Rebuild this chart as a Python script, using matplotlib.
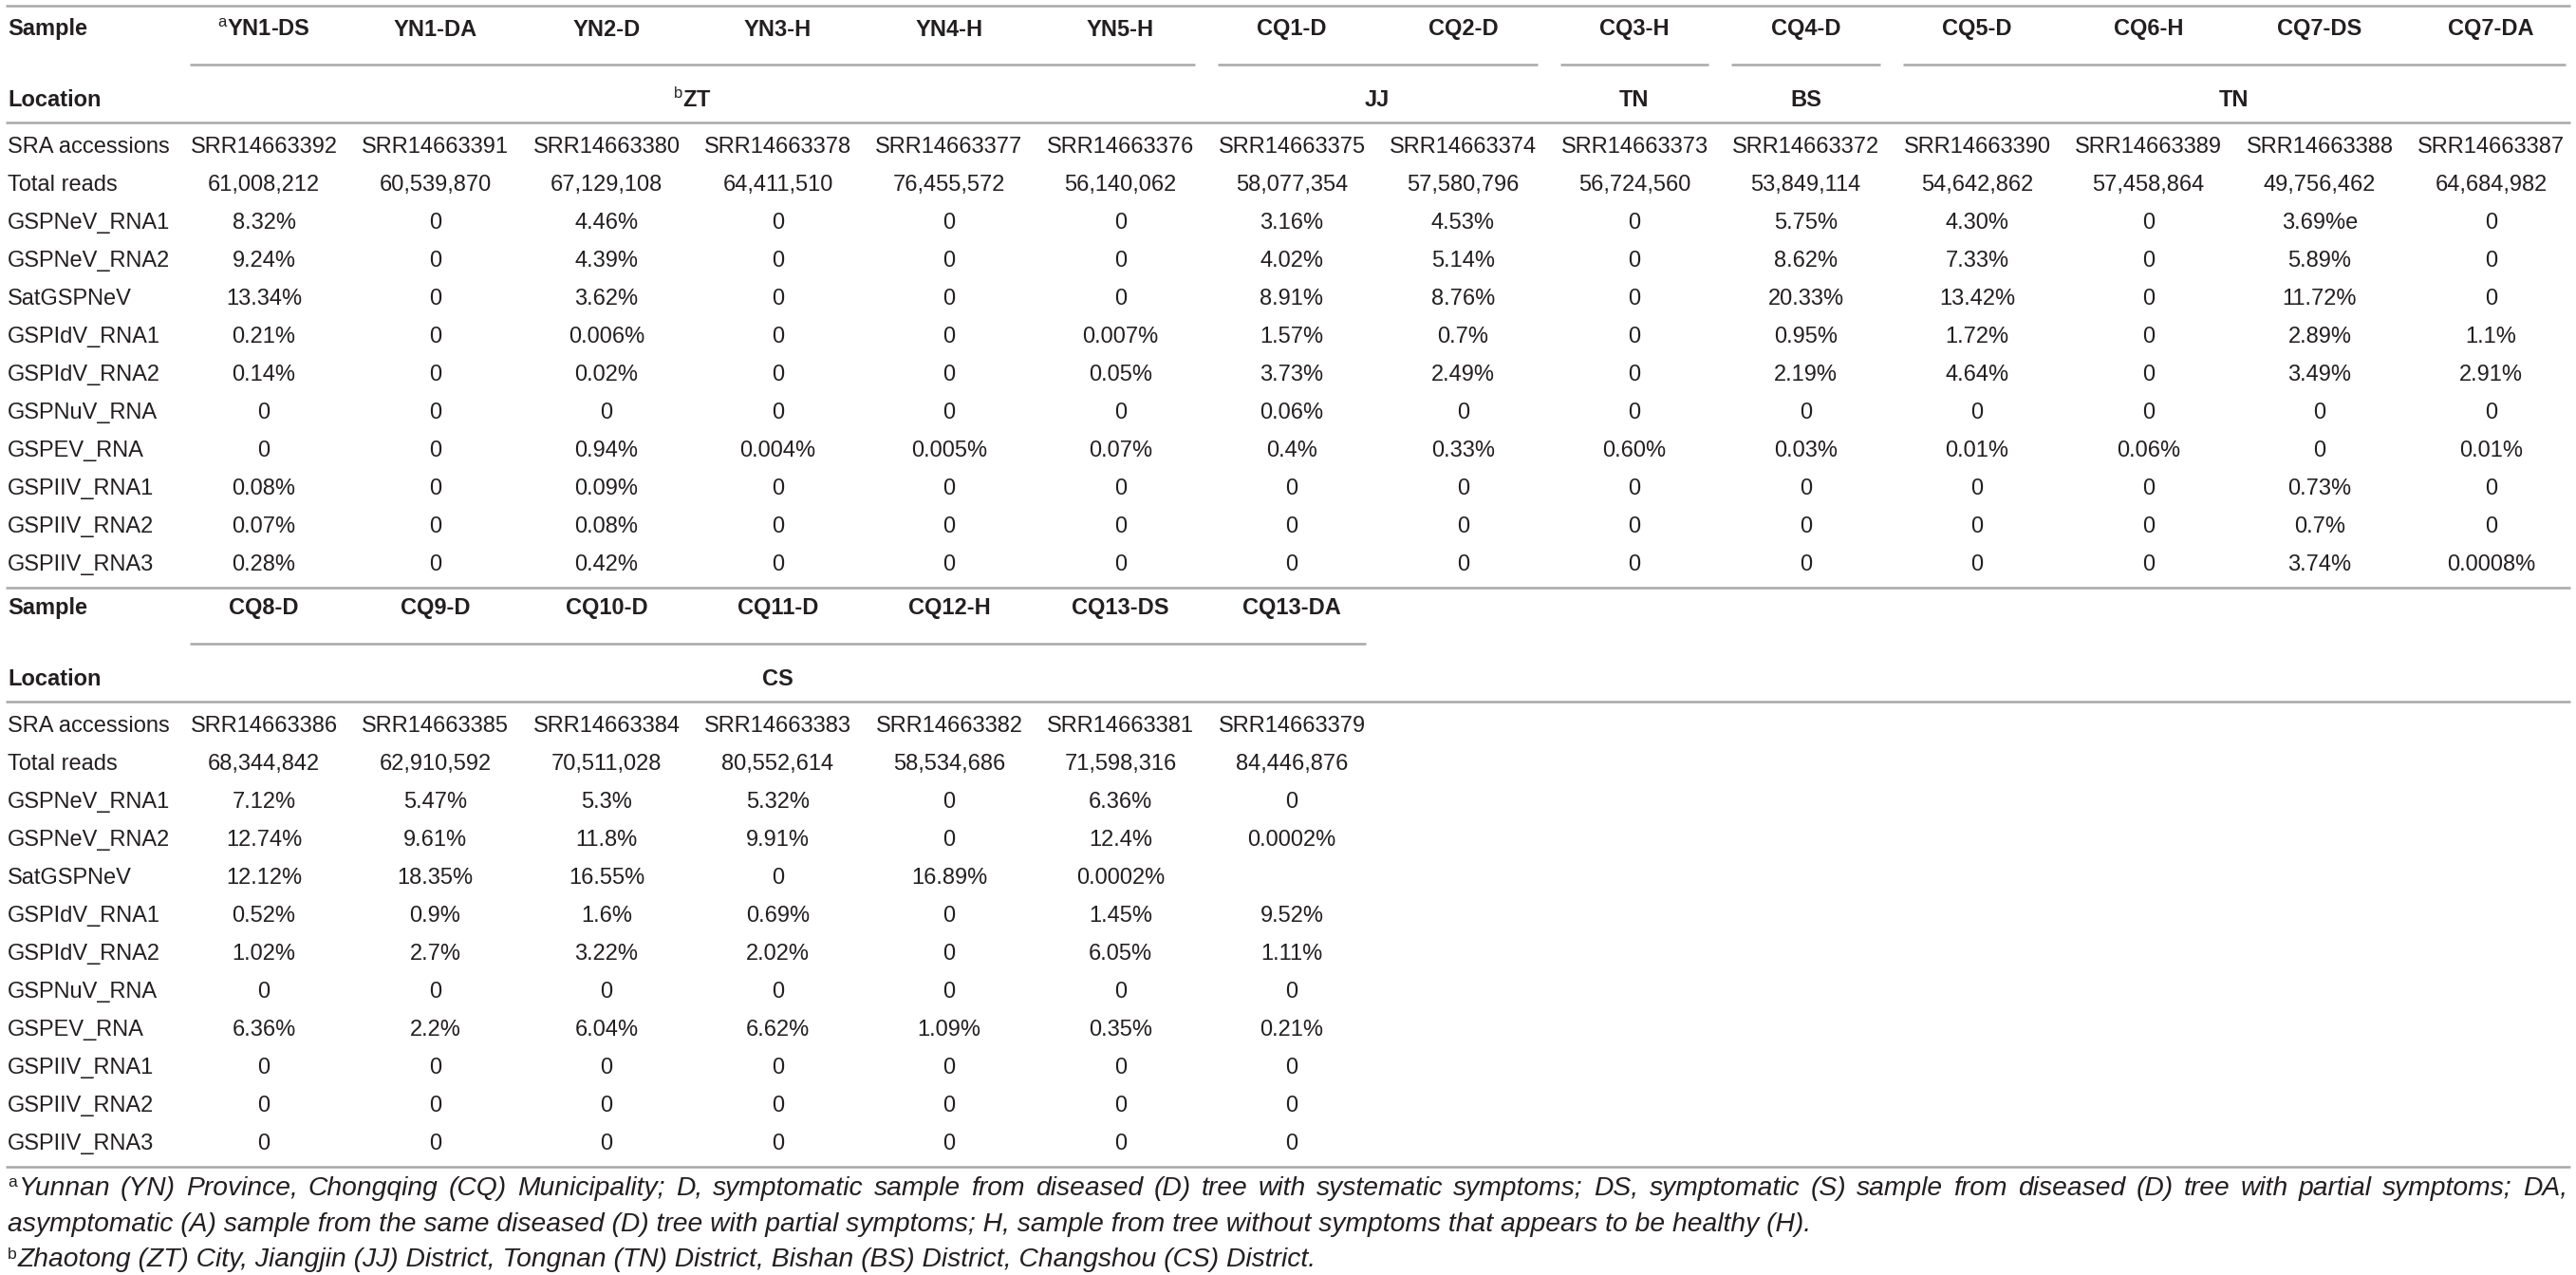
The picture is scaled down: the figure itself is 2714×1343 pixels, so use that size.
import matplotlib.pyplot as plt
import numpy as np

plt.rcParams['font.family'] = ['Liberation Sans', 'DejaVu Sans']
plt.rcParams['mathtext.fontset'] = 'custom'
plt.rcParams['mathtext.rm'] = 'Liberation Sans'
plt.rcParams['mathtext.it'] = 'Liberation Sans:italic'
plt.rcParams['mathtext.bf'] = 'Liberation Sans:bold'

# ---------------- data ----------------
row_names = ["GSPNeV_RNA1", "GSPNeV_RNA2", "SatGSPNeV", "GSPIdV_RNA1", "GSPIdV_RNA2",
             "GSPNuV_RNA", "GSPEV_RNA", "GSPIIV_RNA1", "GSPIIV_RNA2", "GSPIIV_RNA3"]

samples1 = ["$^{\\mathrm{a}}$YN1-DS", "YN1-DA", "YN2-D", "YN3-H", "YN4-H", "YN5-H", "CQ1-D",
            "CQ2-D", "CQ3-H", "CQ4-D", "CQ5-D", "CQ6-H", "CQ7-DS", "CQ7-DA"]
locations1 = [("$^{\\mathrm{b}}$ZT", 0, 5), ("JJ", 6, 7), ("TN", 8, 8), ("BS", 9, 9), ("TN", 10, 13)]
sra1 = ["SRR14663392", "SRR14663391", "SRR14663380", "SRR14663378", "SRR14663377",
        "SRR14663376", "SRR14663375", "SRR14663374", "SRR14663373", "SRR14663372",
        "SRR14663390", "SRR14663389", "SRR14663388", "SRR14663387"]
reads1 = ["61,008,212", "60,539,870", "67,129,108", "64,411,510", "76,455,572", "56,140,062",
          "58,077,354", "57,580,796", "56,724,560", "53,849,114", "54,642,862", "57,458,864",
          "49,756,462", "64,684,982"]
vals1 = [
    ["8.32%", "0", "4.46%", "0", "0", "0", "3.16%", "4.53%", "0", "5.75%", "4.30%", "0", "3.69%e", "0"],
    ["9.24%", "0", "4.39%", "0", "0", "0", "4.02%", "5.14%", "0", "8.62%", "7.33%", "0", "5.89%", "0"],
    ["13.34%", "0", "3.62%", "0", "0", "0", "8.91%", "8.76%", "0", "20.33%", "13.42%", "0", "11.72%", "0"],
    ["0.21%", "0", "0.006%", "0", "0", "0.007%", "1.57%", "0.7%", "0", "0.95%", "1.72%", "0", "2.89%", "1.1%"],
    ["0.14%", "0", "0.02%", "0", "0", "0.05%", "3.73%", "2.49%", "0", "2.19%", "4.64%", "0", "3.49%", "2.91%"],
    ["0", "0", "0", "0", "0", "0", "0.06%", "0", "0", "0", "0", "0", "0", "0"],
    ["0", "0", "0.94%", "0.004%", "0.005%", "0.07%", "0.4%", "0.33%", "0.60%", "0.03%", "0.01%", "0.06%", "0", "0.01%"],
    ["0.08%", "0", "0.09%", "0", "0", "0", "0", "0", "0", "0", "0", "0", "0.73%", "0"],
    ["0.07%", "0", "0.08%", "0", "0", "0", "0", "0", "0", "0", "0", "0", "0.7%", "0"],
    ["0.28%", "0", "0.42%", "0", "0", "0", "0", "0", "0", "0", "0", "0", "3.74%", "0.0008%"],
]

samples2 = ["CQ8-D", "CQ9-D", "CQ10-D", "CQ11-D", "CQ12-H", "CQ13-DS", "CQ13-DA"]
locations2 = [("CS", 0, 6)]
sra2 = ["SRR14663386", "SRR14663385", "SRR14663384", "SRR14663383", "SRR14663382",
        "SRR14663381", "SRR14663379"]
reads2 = ["68,344,842", "62,910,592", "70,511,028", "80,552,614", "58,534,686", "71,598,316", "84,446,876"]
vals2 = [
    ["7.12%", "5.47%", "5.3%", "5.32%", "0", "6.36%", "0"],
    ["12.74%", "9.61%", "11.8%", "9.91%", "0", "12.4%", "0.0002%"],
    ["12.12%", "18.35%", "16.55%", "0", "16.89%", "0.0002%", ""],
    ["0.52%", "0.9%", "1.6%", "0.69%", "0", "1.45%", "9.52%"],
    ["1.02%", "2.7%", "3.22%", "2.02%", "0", "6.05%", "1.11%"],
    ["0", "0", "0", "0", "0", "0", "0"],
    ["6.36%", "2.2%", "6.04%", "6.62%", "1.09%", "0.35%", "0.21%"],
    ["0", "0", "0", "0", "0", "0", "0"],
    ["0", "0", "0", "0", "0", "0", "0"],
    ["0", "0", "0", "0", "0", "0", "0"],
]

foot_a1 = ("Yunnan (YN) Province, Chongqing (CQ) Municipality; D, symptomatic sample from diseased (D) "
           "tree with systematic symptoms; DS, symptomatic (S) sample from diseased (D) tree with partial symptoms; DA,")
foot_a2 = ("asymptomatic (A) sample from the same diseased (D) tree with partial symptoms; H, sample from "
           "tree without symptoms that appears to be healthy (H).")
foot_b = ("Zhaotong (ZT) City, Jiangjin (JJ) District, Tongnan (TN) District, Bishan (BS) District, "
          "Changshou (CS) District.")

# ---------------- layout ----------------
W, H = 2714, 1343
TXT = '#231f20'
LINE = '#a8a8a8'
FS = 17
X0, STEP = 278, 180.5
LEFT, RIGHT = 6, 2708

fig = plt.figure(figsize=(W / 100, H / 100), dpi=100)
ax = fig.add_axes([0, 0, 1, 1])
ax.set_xlim(0, W)
ax.set_ylim(H, 0)
ax.axis('off')
renderer = fig.canvas.get_renderer()


def text_w(s, **kw):
    t = ax.text(0, 0, s, **kw)
    w = t.get_window_extent(renderer).width
    t.remove()
    return w


def draw_table(top, samples, locations, sra, reads, vals):
    cx = X0 + STEP * np.arange(len(samples))
    ax.text(8, top, "Sample", fontsize=FS, fontweight='bold', color=TXT, va='center')
    for x, s in zip(cx, samples):
        ax.text(x, top, s, fontsize=FS, fontweight='bold', color=TXT, ha='center', va='center')
    y_seg = top + 37
    y_loc = top + 74
    y_line = top + 98
    for name, a, b in locations:
        x1 = cx[a] - STEP / 2 + 12
        x2 = min(cx[b] + STEP / 2 - 12, RIGHT)
        ax.hlines(y_seg, x1, x2, color=LINE, lw=1.8)
        ax.text((cx[a] + cx[b]) / 2, y_loc, name, fontsize=FS, fontweight='bold',
                color=TXT, ha='center', va='center')
    ax.text(8, y_loc, "Location", fontsize=FS, fontweight='bold', color=TXT, va='center')
    ax.hlines(y_line, LEFT, RIGHT, color=LINE, lw=1.8)
    rows = [("SRA accessions", sra), ("Total reads", reads)] + list(zip(row_names, vals))
    y = top + 124
    for label, cells in rows:
        ax.text(8, y, label, fontsize=FS, color=TXT, va='center')
        for x, c in zip(cx, cells):
            ax.text(x, y, c, fontsize=FS, color=TXT, ha='center', va='center')
        y += 40
    return y - 40 + 24


ax.hlines(6, LEFT, RIGHT, color=LINE, lw=1.8)
yb = draw_table(31, samples1, locations1, sra1, reads1, vals1)
ax.hlines(yb, LEFT, RIGHT, color=LINE, lw=1.8)
yb = draw_table(641, samples2, locations2, sra2, reads2, vals2)
ax.hlines(yb, LEFT, RIGHT, color=LINE, lw=1.8)

# footnotes
w2 = text_w(foot_a2, fontsize=FS, style='italic')
ffs = FS * 1899 / w2
sup_fs = ffs * 0.62
ya1, ya2, yb1 = 1252, 1290, 1327

ax.text(8, ya1 - 6, "a", fontsize=sup_fs, color=TXT, va='center')
xs = 8 + text_w("a", fontsize=sup_fs) + 1
words = foot_a1.split(' ')
ww = [text_w(wd, fontsize=ffs, style='italic') for wd in words]
gap = (2705 - xs - sum(ww)) / (len(words) - 1)
x = xs
for wd, w in zip(words, ww):
    ax.text(x, ya1, wd, fontsize=ffs, style='italic', color=TXT, va='center')
    x += w + gap

ax.text(8, ya2, foot_a2, fontsize=ffs, style='italic', color=TXT, va='center')

ax.text(8, yb1 - 6, "b", fontsize=sup_fs, color=TXT, va='center')
xs = 8 + text_w("b", fontsize=sup_fs) + 1
ax.text(xs, yb1, foot_b, fontsize=ffs, style='italic', color=TXT, va='center')

fig.savefig("out.png", dpi=100)
